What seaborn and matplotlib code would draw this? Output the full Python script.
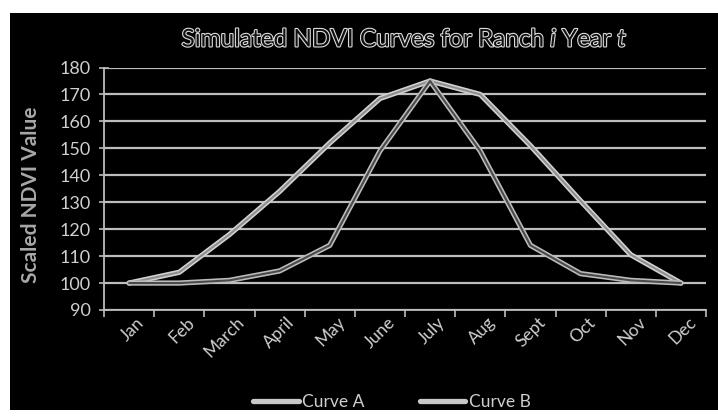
import matplotlib
matplotlib.use("Agg")
import matplotlib.pyplot as plt
import matplotlib.patheffects as pe
import matplotlib.transforms as mtransforms
from matplotlib.patches import Rectangle
from matplotlib.lines import Line2D
import seaborn as sns
import pandas as pd
import numpy as np

months = ["Jan", "Feb", "March", "April", "May", "June", "July", "Aug", "Sept", "Oct", "Nov", "Dec"]
curve_a = [100, 104, 118, 134, 152, 168.5, 175, 170, 151, 130.5, 110.5, 100]
curve_b = [100, 100, 101, 104.5, 114, 149, 175, 149, 114, 103.5, 101, 100]
y_ticks = [90, 100, 110, 120, 130, 140, 150, 160, 170, 180]

df = pd.DataFrame({
    "Month": list(range(len(months))) * 2,
    "Value": curve_a + curve_b,
    "Curve": ["Curve A"] * len(months) + ["Curve B"] * len(months),
})

sns.set_theme(style="dark")
plt.rcParams["font.family"] = ["Lato", "DejaVu Sans"]
plt.rcParams["mathtext.fontset"] = "custom"
plt.rcParams["mathtext.rm"] = "Lato"
plt.rcParams["mathtext.it"] = "Lato:italic"

W, H = 718, 420
fig = plt.figure(figsize=(W / 100, H / 100), dpi=100, facecolor="white")
fig.add_artist(Rectangle((10 / W, 1 - 410 / H), (W - 10) / W, (410 - 13) / H,
                         transform=fig.transFigure, facecolor="black",
                         edgecolor="none", zorder=-10))

left, right, top, bottom = 104, 706, 67.5, 310
ax = fig.add_axes([left / W, 1 - bottom / H, (right - left) / W, (bottom - top) / H])
ax.set_facecolor("black")

sns.lineplot(data=df, x="Month", y="Value", hue="Curve",
             palette={"Curve A": "#8e8e8e", "Curve B": "#4a4a4a"},
             linewidth=1.5, ax=ax, legend=False, zorder=5)
outline = {"Curve A": "#d2d2d2", "Curve B": "#bcbcbc"}
for line, name in zip(ax.get_lines(), ["Curve A", "Curve B"]):
    line.set_path_effects([pe.Stroke(linewidth=3.8, foreground=outline[name]), pe.Normal()])
    line.set_solid_joinstyle("round")

ax.set_xlim(-0.5, len(months) - 0.5)
ax.set_ylim(y_ticks[0], y_ticks[-1])
ax.set_yticks(y_ticks)
ax.set_xticks(range(len(months)))
ax.set_xticks(np.arange(-0.5, len(months), 1.0), minor=True)
ax.grid(False)
ax.yaxis.grid(True, color="#bdbdbd", linewidth=1.6)
ax.set_axisbelow(True)

for s in ["top", "right"]:
    ax.spines[s].set_visible(False)
for s in ["left", "bottom"]:
    ax.spines[s].set_color("#bdbdbd")
    ax.spines[s].set_linewidth(1.3)

ax.tick_params(axis="y", which="major", direction="inout", length=7, width=1.2,
               color="#bdbdbd", labelsize=13, labelcolor="#cfcfcf", pad=6, left=True)
ax.tick_params(axis="x", which="major", length=0, labelsize=12.5, labelcolor="#cfcfcf", pad=3)
ax.tick_params(axis="x", which="minor", direction="out", length=5, width=1.2,
               color="#bdbdbd", bottom=True)

ax.set_xticklabels(months)
shift = mtransforms.ScaledTranslation(7 / 100, 0, fig.dpi_scale_trans)
for lab in ax.get_xticklabels():
    lab.set_rotation(45)
    lab.set_ha("right")
    lab.set_va("top")
    lab.set_rotation_mode("anchor")
    lab.set_transform(lab.get_transform() + shift)
ax.set_xlabel("")
ax.set_ylabel("")

fig.text(404 / W, 1 - 40 / H, "Simulated NDVI Curves for Ranch $\\mathit{i}$ Year $\\mathit{t}$",
         ha="center", va="center", fontsize=17.5, color="#101010",
         path_effects=[pe.Stroke(linewidth=1.6, foreground="#dcdcdc"), pe.Normal()])
fig.text(31 / W, 1 - 195 / H, "Scaled NDVI Value", rotation=90, ha="center", va="center",
         fontsize=15, fontweight="bold", color="#a8a8a8")

handles = [Line2D([], [], color="#c8c8c8", linewidth=3.8),
           Line2D([], [], color="#c8c8c8", linewidth=3.8)]
leg = fig.legend(handles, ["Curve A", "Curve B"], loc="center",
                 bbox_to_anchor=(392 / W, 1 - 402 / H), ncol=2, frameon=False,
                 fontsize=12.5, handlelength=2.6, handletextpad=0.2, columnspacing=3.2)
for t in leg.get_texts():
    t.set_color("#cfcfcf")

fig.savefig("out.png", dpi=100, facecolor="white")
